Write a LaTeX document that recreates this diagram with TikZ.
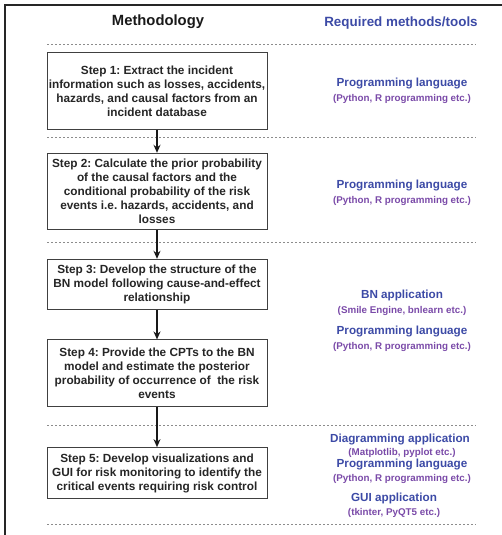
\documentclass[tikz,border=0pt]{standalone}
\usepackage{fontspec}
\setmainfont{Liberation Sans}
\usetikzlibrary{arrows.meta}
\definecolor{hblue}{HTML}{3C4AA6}
\definecolor{spurple}{HTML}{7A4AA8}
\definecolor{boxline}{HTML}{404040}
\frenchspacing
\tikzset{
  stepbox/.style={draw=boxline, line width=1pt, fill=white, minimum width=220pt, inner sep=0pt, align=center,
     font=\bfseries\fontsize{11.8}{14}\selectfont, text=black!85},
  sep/.style={draw=black!45, line width=0.8pt, dash pattern=on 2pt off 2pt},
  flow/.style={draw=black!90, line width=1.3pt, -{Stealth[length=8pt,width=7pt]}},
  tool/.style={font=\bfseries\fontsize{11.7}{14}\selectfont, text=hblue, inner sep=0pt},
  toolsub/.style={font=\bfseries\fontsize{9.8}{12}\selectfont, text=spurple, inner sep=0pt},
  head/.style={font=\bfseries\fontsize{14.8}{17}\selectfont, inner sep=0pt},
}
\begin{document}
\begin{tikzpicture}[x=1pt,y=-1pt]
\useasboundingbox (0,0) rectangle (502,535);
% frame
\draw[black!85, line width=1.5pt] (5,540) -- (5,5) -- (506,5);
% headings
\node[head, text=black!90] (hm) at (158,22) {Methodology};
\node[head, text=hblue, font=\bfseries\fontsize{13.4}{16}\selectfont] (hr) at (401,23) {Required methods/tools};
% separators
\coordinate (s1a) at (47,44);  \coordinate (s1b) at (476,44);
\coordinate (s2a) at (47,137); \coordinate (s2b) at (476,137);
\coordinate (s3a) at (47,242); \coordinate (s3b) at (476,242);
\coordinate (s4a) at (47,425); \coordinate (s4b) at (476,425);
\coordinate (s5a) at (47,524); \coordinate (s5b) at (476,524);
\draw[sep] (s1a) -- (s1b);
\draw[sep] (s2a) -- (s2b);
\draw[sep] (s3a) -- (s3b);
\draw[sep] (s4a) -- (s4b);
\draw[sep] (s5a) -- (s5b);
% steps
\node[stepbox, minimum height=76pt] (st1) at (157,91) {Step 1: Extract the incident\\information such as losses, accidents,\\hazards, and causal factors from an\\incident database};
\node[stepbox, minimum height=76pt] (st2) at (157,191.3) {Step 2: Calculate the prior probability\\of the causal factors and the\\conditional probability of the risk\\events i.e. hazards, accidents, and\\losses};
\node[stepbox, minimum height=50pt] (st3) at (157,284.3) {Step 3: Develop the structure of the\\BN model following cause-and-effect\\relationship};
\node[stepbox, minimum height=66.7pt] (st4) at (157,373.3) {Step 4: Provide the CPTs to the BN\\model and estimate the posterior\\probability of occurrence of\ \ the risk\\events};
\node[stepbox, minimum height=51.3pt] (st5) at (157,473.3) {Step 5: Develop visualizations and\\GUI for risk monitoring to identify the\\critical events requiring risk control};
% arrows
\draw[flow] (st1) -- (st2);
\draw[flow] (st2) -- (st3);
\draw[flow] (st3) -- (st4);
\draw[flow] (st4) -- (st5);
% tools
\node[tool] (t1) at (402,84) {Programming language};
\node[toolsub] (t1s) at (402,99) {(Python, R programming etc.)};
\node[tool] (t2) at (402,185.7) {Programming language};
\node[toolsub] (t2s) at (402,201) {(Python, R programming etc.)};
\node[tool] (t3) at (402,295) {BN application};
\node[toolsub] (t3s) at (402,310.7) {(Smile Engine, bnlearn etc.)};
\node[tool] (t4) at (402,331.7) {Programming language};
\node[toolsub] (t4s) at (402,346.7) {(Python, R programming etc.)};
\node[tool] (t5) at (400,439) {Diagramming application};
\node[toolsub] (t5s) at (402,453.3) {(Matplotlib, pyplot etc.)};
\node[tool] (t6) at (402,464) {Programming language};
\node[toolsub] (t6s) at (402,479.3) {(Python, R programming etc.)};
\node[tool] (t7) at (394,498.3) {GUI application};
\node[toolsub] (t7s) at (394,513.3) {(tkinter, PyQT5 etc.)};
\end{tikzpicture}
\end{document}
